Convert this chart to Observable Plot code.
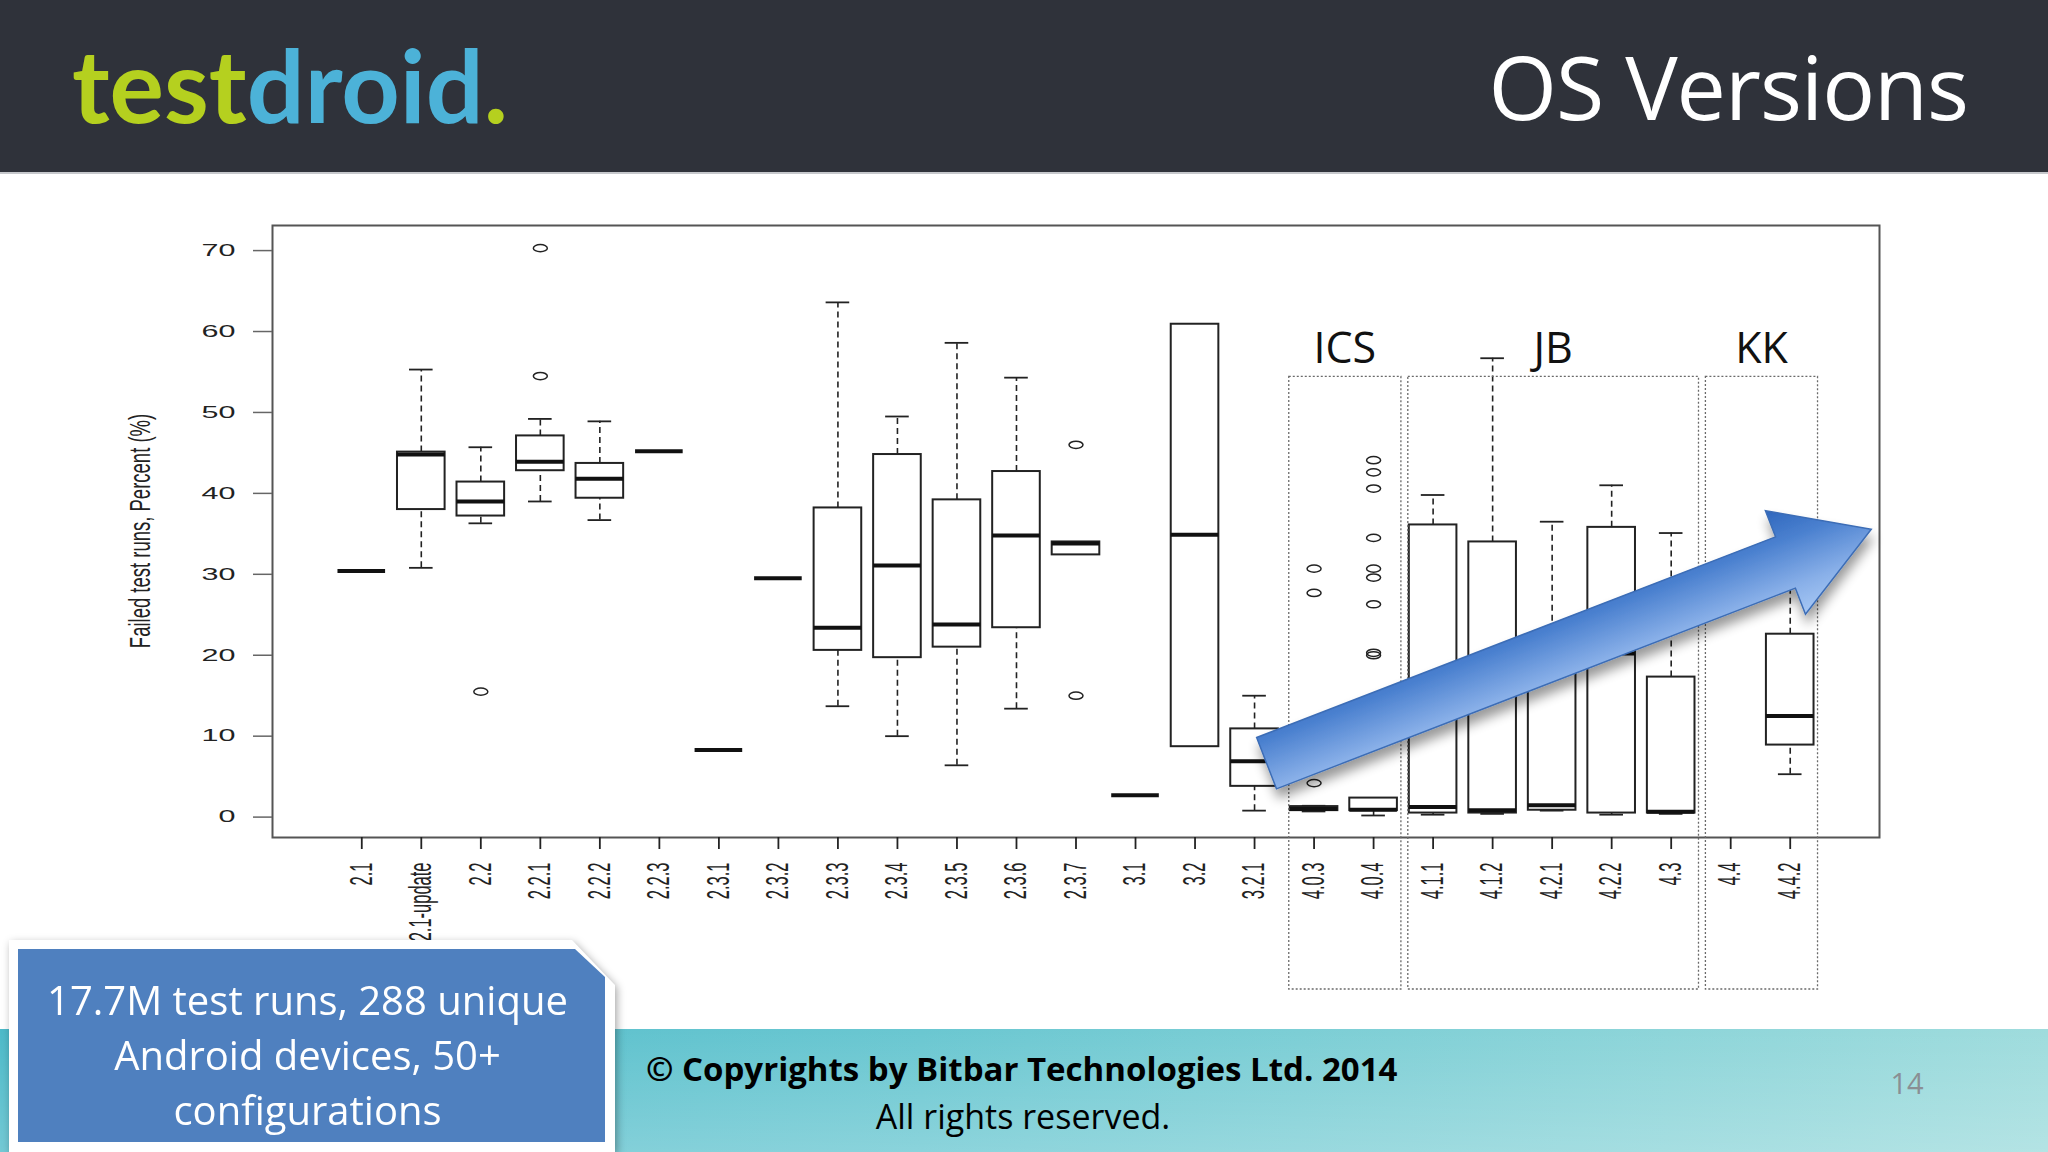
<!DOCTYPE html>
<html>
<head>
<meta charset="utf-8">
<script src="https://cdn.jsdelivr.net/npm/d3@7"></script>
<script src="https://cdn.jsdelivr.net/npm/@observablehq/plot@0.6"></script>
<style>
html, body { margin: 0; padding: 0; width: 2048px; height: 1152px; overflow: hidden; background: #fff; }
#slide { position: relative; width: 2048px; height: 1152px; overflow: hidden; background: #fff; font-family: "Open Sans", sans-serif; }
#header { position: absolute; left: 0; top: 0; width: 2048px; height: 172px; background: #2f323a; border-bottom: 2px solid #c6c8cc; }
#logo { position: absolute; left: 72px; top: 33px; font-family: Lato, sans-serif; font-weight: 700; font-size: 102px; line-height: 1; letter-spacing: 0px; white-space: nowrap; }
#logo .g { color: #b5d01f; }
#logo .b { color: #4cb2d8; }
#title { position: absolute; right: 80px; top: 42px; font-size: 88px; line-height: 1; color: #fff; letter-spacing: -1px; white-space: nowrap; }
#footer { position: absolute; left: 0; top: 1029px; width: 2048px; height: 123px;
  background: linear-gradient(180deg, rgba(255,255,255,0) 0%, rgba(255,255,255,0.22) 100%),
              linear-gradient(90deg, #4dbac9 0%, #6ac7d1 45%, #9fdcdd 100%); }
#chart { position: absolute; left: 0; top: 0; }
#copy { position: absolute; left: 646px; top: 1052px; font-size: 33px; line-height: 1; font-weight: 700; color: #000; white-space: nowrap; }
#rights { position: absolute; left: 773px; width: 500px; top: 1099px; font-size: 34px; line-height: 1; color: #000; text-align: center; white-space: nowrap; }
#page { position: absolute; left: 1857px; width: 100px; top: 1068px; font-size: 29px; line-height: 1; color: #8a8f94; text-align: center; }
#noteWrap { position: absolute; left: 9px; top: 940px; width: 606px; height: 212px; filter: drop-shadow(2px 3px 4px rgba(0,0,0,0.35)); }
#noteOuter { position: absolute; left: 0; top: 0; width: 606px; height: 212px; background: #fff;
  clip-path: polygon(0 0, 563px 0, 606px 45px, 606px 100%, 0 100%); }
#noteInner { position: absolute; left: 9px; top: 9px; width: 587px; height: 193px; background: #4f80bf;
  clip-path: polygon(0 0, 557px 0, 587px 28px, 587px 100%, 0 100%);
  color: #fff; text-align: center; font-size: 40px; line-height: 55px; padding-top: 23px; padding-right: 8px; box-sizing: border-box; white-space: nowrap; }
</style>
</head>
<body>
<div id="slide">
  <div id="header">
    <div id="logo"><span class="g">test</span><span class="b">droid</span><span class="g">.</span></div>
    <div id="title">OS Versions</div>
  </div>
  <div id="footer"></div>
  <div id="chart"></div>
  <div id="copy">© Copyrights by Bitbar Technologies Ltd. 2014</div>
  <div id="rights">All rights reserved.</div>
  <div id="page">14</div>
  <div id="noteWrap">
    <div id="noteOuter"></div>
    <div id="noteInner">17.7M test runs, 288 unique<br>Android devices, 50+<br>configurations</div>
  </div>
</div>
<script>
// ---------------- data ----------------
const categories = ["2.1","2.1-update","2.2","2.2.1","2.2.2","2.2.3","2.3.1","2.3.2","2.3.3","2.3.4","2.3.5","2.3.6","2.3.7","3.1","3.2","3.2.1","4.0.3","4.0.4","4.1.1","4.1.2","4.2.1","4.2.2","4.3","4.4","4.4.2"];
const whiskerLow    = [null, 30.8, 36.3, 39.0, 36.7, null, null, null, 13.7, 10.0,  6.4, 13.4, null, null, null,  0.8, 0.7, 0.2,  0.3,  0.4,  0.8,  0.3,  0.4, null,  5.3];
const lowerQuartile = [30.4, 38.0, 37.2, 42.8, 39.4, 45.2,  8.3, 29.5, 20.6, 19.7, 21.0, 23.4, 32.4,  2.7,  8.7,  3.8, 0.8, 0.8,  0.5,  0.5, 0.85,  0.5,  0.5, null,  8.9];
const medianValue   = [30.4, 44.8, 39.0, 43.9, 41.8, 45.2,  8.3, 29.5, 23.4, 31.1, 23.8, 34.8, 33.8,  2.7, 34.9,  6.9, 1.0, 0.9, 1.25, 0.85, 1.45, 20.2, 0.65, null, 12.5];
const upperQuartile = [30.4, 45.1, 41.4, 47.1, 43.7, 45.2,  8.3, 29.5, 38.2, 44.8, 39.2, 42.7, 34.0,  2.7, 60.9, 10.9, 1.3, 2.35, 36.1, 34.0, 20.5, 35.8, 17.3, null, 22.6];
const whiskerHigh   = [null, 55.3, 45.7, 49.2, 48.9, null, null, null, 63.6, 49.5, 58.6, 54.3, null, null, null, 15.0, 1.4, null, 39.8, 56.7, 36.5, 41.0, 35.1, null, 31.0];

const outlierCategories = ["2.2","2.2.1","2.2.1","2.3.7","2.3.7","4.0.3","4.0.3","4.0.3","4.0.4","4.0.4","4.0.4","4.0.4","4.0.4","4.0.4","4.0.4","4.0.4","4.0.4"];
const outlierValues     = [15.5, 70.3, 54.5, 46.0, 15.0, 30.7, 27.7, 4.2, 44.1, 42.6, 40.6, 34.5, 30.7, 29.6, 26.3, 20.3, 20.0];

const yTicks = [0, 10, 20, 30, 40, 50, 60, 70];
const yDomain = [-2.52, 73.1];
const yTitle = "Failed test runs, Percent (%)";

const groupNames = ["ICS", "JB", "KK"];
const groupFirst = ["4.0.3", "4.1.1", "4.4"];
const groupLast  = ["4.0.4", "4.3", "4.4.2"];
const groupTopValue = 54.4, groupBottomValue = -21.3, groupLabelValue = 56.0;

const arrowCategories = ["3.2.1", "4.4.2"];
const arrowOffsets = [0.21, 1.37];   // in category steps
const arrowValues = [6.6, 35.5];

// ---------------- tables ----------------
const boxes = categories.map((c, i) => ({
  c, lo: whiskerLow[i], q1: lowerQuartile[i], med: medianValue[i], q3: upperQuartile[i], hi: whiskerHigh[i]
})).filter(d => d.med != null);
const upperW = boxes.filter(d => d.hi != null && d.hi > d.q3);
const lowerW = boxes.filter(d => d.lo != null && d.lo < d.q1);
const outliers = outlierCategories.map((c, i) => ({c, v: outlierValues[i]}));

const ellipse = {
  draw(context) {
    const rx = 7, ry = 3.6, k = 0.5523;
    context.moveTo(rx, 0);
    context.bezierCurveTo(rx, ry * k, rx * k, ry, 0, ry);
    context.bezierCurveTo(-rx * k, ry, -rx, ry * k, -rx, 0);
    context.bezierCurveTo(-rx, -ry * k, -rx * k, -ry, 0, -ry);
    context.bezierCurveTo(rx * k, -ry, rx, -ry * k, rx, 0);
    context.closePath();
  }
};

function bandInfo(x) {
  const step = x(categories[1]) - x(categories[0]);
  const bw = typeof x.bandwidth === "function" ? x.bandwidth() : step * 0.8;
  return {step, bw};
}

function yTitleMark(index, scales, values, dims) {
  const cx = dims.marginLeft - 131;
  const cy = (dims.marginTop + dims.height - dims.marginBottom) / 2;
  return d3.create("svg:text")
    .attr("transform", `translate(${cx},${cy}) rotate(-90) scale(1,1.6)`)
    .attr("text-anchor", "middle").attr("dy", "0.32em")
    .attr("font-size", 18.5).attr("fill", "#222")
    .text(yTitle).node();
}

function groupMark(index, {x, y}) {
  const {bw} = bandInfo(x);
  const g = d3.create("svg:g");
  groupNames.forEach((name, i) => {
    const x1 = x(groupFirst[i]) - 1, x2 = x(groupLast[i]) + bw + 4;
    g.append("rect").attr("x", x1).attr("y", y(groupTopValue))
      .attr("width", x2 - x1).attr("height", y(groupBottomValue) - y(groupTopValue))
      .attr("fill", "none").attr("stroke", "#6a6a6a").attr("stroke-width", 1.3).attr("stroke-dasharray", "2,2");
    g.append("text").attr("x", (x1 + x2) / 2).attr("y", y(groupLabelValue))
      .attr("text-anchor", "middle").attr("font-family", "Open Sans").attr("font-size", 43)
      .attr("fill", "#111").text(name);
  });
  return g.node();
}

function arrowMark(index, {x, y}) {
  const {step, bw} = bandInfo(x);
  const X = arrowCategories.map((c, i) => x(c) + bw / 2 + arrowOffsets[i] * step);
  const Y = arrowValues.map(v => y(v));
  const L = Math.hypot(X[1] - X[0], Y[1] - Y[0]);
  const ang = Math.atan2(Y[1] - Y[0], X[1] - X[0]) * 180 / Math.PI;
  const sw = 55, hw = 111, hl = 92;
  const g = d3.create("svg:g");
  const defs = g.append("defs");
  const grad = defs.append("linearGradient").attr("id", "arrowGrad").attr("x1", 0).attr("y1", 0).attr("x2", 0).attr("y2", 1);
  [[0, "#2f67bd"], [0.3, "#4a80cf"], [0.72, "#88afe8"], [1, "#a6c7f4"]].forEach(([o, c]) =>
    grad.append("stop").attr("offset", o).attr("stop-color", c));
  const f = defs.append("filter").attr("id", "arrowShadow").attr("x", "-10%").attr("y", "-30%").attr("width", "120%").attr("height", "170%");
  f.append("feGaussianBlur").attr("in", "SourceAlpha").attr("stdDeviation", 6);
  f.append("feOffset").attr("dx", 2).attr("dy", 9).attr("result", "off");
  const ct = f.append("feComponentTransfer"); ct.append("feFuncA").attr("type", "linear").attr("slope", 0.4);
  const m = f.append("feMerge"); m.append("feMergeNode"); m.append("feMergeNode").attr("in", "SourceGraphic");
  g.append("g").attr("filter", "url(#arrowShadow)")
    .append("path")
    .attr("transform", `translate(${X[0]},${Y[0]}) rotate(${ang})`)
    .attr("d", `M0,${-sw/2}L${L-hl},${-sw/2}L${L-hl},${-hw/2}L${L},0L${L-hl},${hw/2}L${L-hl},${sw/2}L0,${sw/2}Z`)
    .attr("fill", "url(#arrowGrad)").attr("stroke", "#3c6db6").attr("stroke-width", 1.5).attr("stroke-linejoin", "miter");
  return g.node();
}

const chart = Plot.plot({
  width: 2048,
  height: 1000,
  marginTop: 225,
  marginBottom: 163,
  marginLeft: 272,
  marginRight: 169,
  style: {background: "none", fontFamily: "Liberation Sans, Arial, sans-serif", color: "#222", overflow: "visible", maxWidth: "none"},
  x: {type: "band", domain: categories, paddingInner: 0.2, paddingOuter: 1.1, round: false, label: null},
  y: {domain: yDomain, label: null},
  marks: [
    Plot.frame({stroke: "#555", strokeWidth: 2}),
    Plot.ruleX(upperW, {x: "c", y1: "q3", y2: "hi", stroke: "#222", strokeWidth: 1.6, strokeDasharray: "6,4"}),
    Plot.ruleX(lowerW, {x: "c", y1: "lo", y2: "q1", stroke: "#222", strokeWidth: 1.6, strokeDasharray: "6,4"}),
    Plot.tickY(upperW, {x: "c", y: "hi", stroke: "#222", strokeWidth: 1.8, inset: 12}),
    Plot.tickY(lowerW, {x: "c", y: "lo", stroke: "#222", strokeWidth: 1.8, inset: 12}),
    Plot.barY(boxes, {x: "c", y1: "q1", y2: "q3", fill: "white", stroke: "#222", strokeWidth: 2}),
    Plot.tickY(boxes, {x: "c", y: "med", stroke: "#111", strokeWidth: 4}),
    Plot.dot(outliers, {x: "c", y: "v", symbol: ellipse, r: 4, stroke: "#222", strokeWidth: 1.5, fill: "none"}),
    Plot.axisX({tickSize: 12, tickPadding: 13, tickRotate: -90, textAnchor: "end", fontSize: 16.5, strokeWidth: 1.8, label: null}),
    Plot.axisY(yTicks, {tickSize: 19, tickPadding: 18, fontSize: 16.5, strokeWidth: 1.5, stroke: "#666", label: null}),
    yTitleMark,
    groupMark,
    arrowMark
  ]
});

// the R graphic in the slide is stretched horizontally; mimic that on its labels
d3.select(chart).selectAll('g[aria-label="y-axis tick label"] text').each(function () {
  this.setAttribute("transform", (this.getAttribute("transform") || "") + " scale(1.85,1)");
});
d3.select(chart).selectAll('g[aria-label="x-axis tick label"] text').each(function () {
  this.setAttribute("transform", (this.getAttribute("transform") || "") + " scale(1,1.85)");
});

document.getElementById("chart").appendChild(chart);
</script>
</body>
</html>
